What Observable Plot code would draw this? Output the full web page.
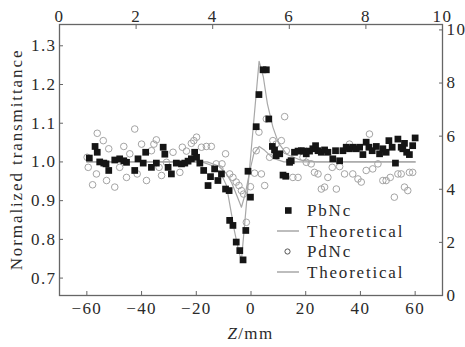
<!DOCTYPE html>
<html><head><meta charset="utf-8">
<script src="https://cdn.jsdelivr.net/npm/d3@7"></script>
<script src="https://cdn.jsdelivr.net/npm/@observablehq/plot@0.6"></script>
<style>body{margin:0;background:#fff}</style>
</head><body><div id="chart"></div>
<script>
// ---- data ----
const pbZ = [-59.1,-57,-56.2,-55.3,-53.8,-53,-52,-49.8,-48,-46.5,-45.5,-42.5,-41.3,-39.4,-38.5,-36.4,-34.6,-32.1,-31.5,-30.3,-29.1,-27.3,-25.4,-24.2,-23,-21.8,-20.6,-19.9,-18.7,-17.3,-15.7,-14.8,-13.3,-12.1,-10.8,-9.3,-8,-7.8,-6.6,-5.4,-4.1,-2.9,-1.9,-1.1,-0.2,1.9,2.9,4.4,5.6,6.5,7.8,8.6,9.2,10.5,11.7,12.7,14.1,14.7,15.9,17.2,18.4,19.2,20.2,21.4,22.6,23.6,24.5,25.7,26.9,28.1,29.9,30.9,32.4,33.6,34.8,36,37.2,38.5,39.7,40.9,42.1,43.1,44.3,45.8,47,48.2,49.4,50.4,51.6,52.8,53.7,54.9,55.5,56.1,56.9,57.9,59.1,60];
const pbT = [1.01,1.04,1.025,1.0,0.997,0.995,0.978,1.005,1.008,1.003,0.999,0.978,1.008,0.997,1.025,0.986,0.997,1.038,1.02,0.986,0.969,0.997,0.995,0.997,1.002,1.008,1.025,1.012,0.997,0.978,0.939,0.962,0.982,0.952,0.969,0.930,0.926,0.849,0.836,0.793,0.771,0.747,0.823,0.976,0.909,1.091,1.174,1.238,1.238,1.111,1.04,1.031,1.016,1.021,0.966,0.963,0.999,1.003,1.025,1.028,1.029,1.028,1.021,1.028,1.034,1.042,1.029,1.025,1.031,1.025,1.008,1.029,1.003,1.029,1.038,1.034,1.038,1.034,1.038,1.019,1.051,1.038,1.029,1.04,1.021,1.034,1.025,1.055,1.038,0.997,1.059,1.038,1.034,1.048,1.025,1.019,1.042,1.062];
const pdZ = [-59.9,-59.5,-57.9,-56.2,-56.5,-54,-52.8,-52,-49.8,-48,-46.5,-45.5,-44.3,-42.5,-41.6,-40,-38.2,-36.4,-35.5,-34.6,-33.6,-32.7,-30.9,-28.5,-26,-25.1,-23.6,-21.8,-20.9,-19.9,-18.1,-16.3,-14.5,-12.7,-11.4,-10.6,-9.3,-7.8,-6.6,-5.4,-4.4,-3.5,-2.7,-1.7,-0.2,1.3,1.9,2.9,3.8,5,5.6,6.8,8,9.2,11.1,12.3,12.9,14.1,15.3,17.2,19,20.2,22,23.2,24.5,25.7,26.9,28.1,29.7,31.2,32.4,34.2,36,37.2,39.1,40.3,42.1,43.3,44.5,46.4,48.2,49.4,50.9,52.4,53.7,54.9,56.1,57.3,57.9,59.1];
const pdT = [1.012,0.986,0.941,1.074,0.969,1.055,0.952,1.034,0.935,0.986,1.04,0.960,1.021,1.085,0.969,1.046,0.952,1.029,1.046,1.057,0.986,0.965,0.999,1.025,0.973,1.038,1.028,1.048,1.055,1.064,1.038,1.040,1.040,0.995,0.982,0.995,1.021,0.969,0.960,0.948,0.939,0.926,0.917,0.844,0.936,0.971,1.029,1.077,0.969,0.939,1.111,1.012,1.055,1.046,1.055,1.117,1.029,1.003,0.960,0.960,1.012,0.999,0.995,0.973,0.969,0.930,0.935,0.960,0.986,0.930,0.988,0.969,1.046,0.969,0.956,0.948,0.978,1.072,0.982,0.995,0.952,0.952,0.960,0.909,0.969,0.969,0.935,0.926,0.973,0.973];
const pbTheoryZ = [-60,-18,-14,-11,-9,-7.5,-6,-4.5,-3.5,2.95,4.5,6,8,10,13,18,24,60];
const pbTheoryT = [1.0,1.0,0.99,0.97,0.94,0.88,0.82,0.77,0.745,1.26,1.22,1.15,1.09,1.05,1.02,1.005,1.0,1.0];
const pdTheoryZ = [-60,-16,-12,-9,-7,-5,-3.5,-2,-0.4,1,3,5,8,12,60];
const pdTheoryT = [1.0,1.0,0.99,0.97,0.945,0.91,0.883,0.92,0.978,1.02,1.04,1.03,1.01,1.0,1.0];
const xTicks = [-60,-40,-20,0,20,40,60];
const yTicks = [0.7,0.8,0.9,1.0,1.1,1.2,1.3];
const topTicks = [0,2,4,6,8,10];
const rightTicks = [0,2,4,6,8,10];
const legendLabels = ["PbNc","Theoretical","PdNc","Theoretical"];
const xTitle = ["Z","/mm"];
const yTitle = "Normalized transmittance";

// ---- build ----
const xDomain = [-70, 70];
const yDomain = [0.655, 1.355];
const topToX = t => xDomain[0] + t * (xDomain[1] - xDomain[0]) / 10;
const rightToY = v => yDomain[0] + v * 0.0686;

const pb = pbZ.map((z, i) => ({z, t: pbT[i]}));
const pd = pdZ.map((z, i) => ({z, t: pdT[i]}));
const pbTh = pbTheoryZ.map((z, i) => ({z, t: pbTheoryT[i]}));
const pdTh = pdTheoryZ.map((z, i) => ({z, t: pdTheoryT[i]}));

const ink = "#2a2a2a";
const frameInk = "#666";
const font = "'Liberation Serif', 'Times New Roman', serif";
const fs = "17px";
const ls = "1.4px";

const plot = Plot.plot({
  width: 465, height: 347,
  marginLeft: 59, marginRight: 23, marginTop: 24, marginBottom: 52,
  style: {fontFamily: font, fontSize: fs, color: ink, background: "#fff", letterSpacing: ls},
  x: {domain: xDomain},
  y: {domain: yDomain},
  marks: [
    Plot.line(pdTh, {x: "z", y: "t", stroke: "#a8a8a8", strokeWidth: 1.2}),
    Plot.line(pbTh, {x: "z", y: "t", stroke: "#a8a8a8", strokeWidth: 1.2}),
    Plot.dot(pd, {x: "z", y: "t", symbol: "circle", r: 3.3, stroke: "#a4a4a4", strokeWidth: 1, fill: "none"}),
    Plot.dot(pb, {x: "z", y: "t", symbol: "square", r: 3.8, fill: "#151515", stroke: "none"}),
    // bottom axis
    Plot.axisX({anchor: "bottom", ticks: xTicks, tickSize: 0, tickPadding: 6, label: null, fontSize: fs}),
    Plot.axisX({anchor: "bottom", ticks: xTicks, tickSize: -4, tickFormat: () => "", label: null, stroke: frameInk}),
    // top axis (0..10)
    Plot.axisX({anchor: "top", ticks: topTicks.map(topToX), tickFormat: d => String(Math.round((d - xDomain[0]) * 10 / (xDomain[1] - xDomain[0]))), tickSize: 0, tickPadding: 3, label: null, fontSize: fs}),
    Plot.axisX({anchor: "top", ticks: topTicks.map(topToX), tickSize: -4, tickFormat: () => "", label: null, stroke: frameInk}),
    // left axis
    Plot.axisY({anchor: "left", ticks: yTicks, tickFormat: d3.format(".1f"), tickSize: 0, tickPadding: 3, label: null, fontSize: fs}),
    Plot.axisY({anchor: "left", ticks: yTicks, tickSize: -4, tickFormat: () => "", label: null, stroke: frameInk}),
    // right axis (0..10)
    Plot.axisY({anchor: "right", ticks: rightTicks.map(rightToY), tickFormat: d => String(Math.round((d - yDomain[0]) / 0.0686)), tickSize: 0, tickPadding: 4, label: null, fontSize: fs}),
    Plot.axisY({anchor: "right", ticks: rightTicks.map(rightToY), tickSize: -4, tickFormat: () => "", label: null, stroke: frameInk}),
    Plot.frame({stroke: frameInk, strokeWidth: 1.3})
  ]
});
document.getElementById("chart").appendChild(plot);

const svg = d3.select(plot);
const sx = plot.scale("x"), sy = plot.scale("y");
const xMid = (sx.apply(xDomain[0]) + sx.apply(xDomain[1])) / 2;
const yMid = (sy.apply(yDomain[0]) + sy.apply(yDomain[1])) / 2;

// axis titles
const xt = svg.append("text").attr("x", xMid).attr("y", 339).attr("text-anchor", "middle")
  .attr("fill", ink).style("font-size", "17px").style("font-family", font).style("letter-spacing", ls);
xt.append("tspan").attr("font-style", "italic").text(xTitle[0]);
xt.append("tspan").text(xTitle[1]);
svg.append("text").attr("transform", `translate(22,${yMid}) rotate(-90)`).attr("text-anchor", "middle")
  .attr("fill", ink).style("font-size", "17px").style("font-family", font).style("letter-spacing", "1.9px").text(yTitle);

// legend
const lg = svg.append("g").style("font-family", font).style("font-size", "17px").style("letter-spacing", "1.8px").attr("fill", ink).attr("text-anchor", "start");
const lx = 277, ly = 210.5, step = 20.5;
legendLabels.forEach((lab, i) => {
  const y = ly + i * step;
  if (i === 0) lg.append("rect").attr("x", lx + 8).attr("y", y - 3.3).attr("width", 6.6).attr("height", 6.6).attr("fill", "#151515");
  else if (i === 2) lg.append("circle").attr("cx", lx + 10.5).attr("cy", y).attr("r", 2.6).attr("fill", "none").attr("stroke", "#555");
  else lg.append("line").attr("x1", lx).attr("x2", lx + 22).attr("y1", y).attr("y2", y).attr("stroke", "#999").attr("stroke-width", 1.3);
  lg.append("text").attr("x", lx + 30).attr("y", y).attr("dy", "0.33em").attr("text-anchor", "start").text(lab);
});
</script>
</body></html>
